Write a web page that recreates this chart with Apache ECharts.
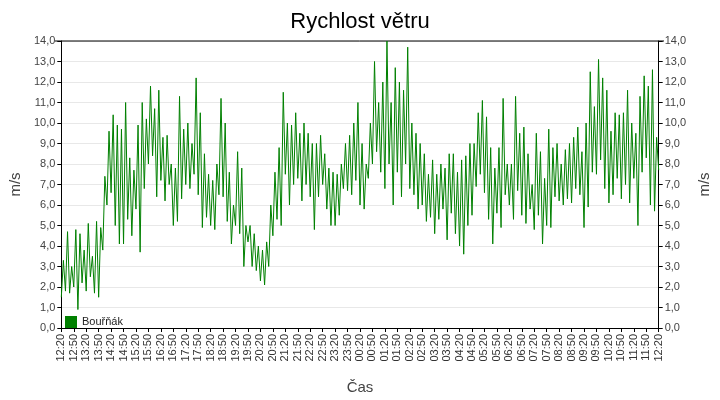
<!DOCTYPE html>
<html><head><meta charset="utf-8">
<script src="https://cdn.jsdelivr.net/npm/echarts@6/dist/echarts.min.js"></script>
<style>html,body{margin:0;padding:0;background:#fff}#c{width:720px;height:400px}</style>
</head><body><div id="c"></div>
<script>
const title = "Rychlost větru";
const seriesName = "Bouřňák";
const yTicks = [0,1,2,3,4,5,6,7,8,9,10,11,12,13,14];
// wind speed samples every 5 minutes, 12:20 -> 12:20 next day
const windSpeed = [
1.5,3.3,1.8,4.7,1.7,3.0, 2.0,4.8,0.9,4.6,2.2,3.8, 1.8,5.1,2.5,3.5,1.7,5.2,
1.5,4.9,3.8,7.4,6.0,9.6, 6.6,10.4,5.0,9.9,4.1,9.7, 4.1,11.0,5.3,8.3,4.5,7.7,
5.8,9.9,3.7,11.0,6.8,10.2, 8.0,11.8,8.4,10.7,6.4,11.6, 7.2,9.3,6.2,9.4,7.0,8.0,
5.0,7.8,5.2,11.3,6.3,9.7, 7.0,10.0,6.8,9.0,7.5,12.2, 6.5,10.5,4.9,8.5,5.4,7.5,
5.0,7.2,4.8,8.0,6.5,11.2, 6.4,10.0,5.2,7.6,4.1,6.0,
5.0,8.6,4.6,7.8,3.0,5.0, 4.2,5.0,3.0,4.6,2.8,4.0, 2.3,3.8,2.1,4.2,3.0,6.0,
4.5,7.6,5.3,8.8,5.0,11.5, 7.5,10.0,6.0,9.9,7.0,10.5, 7.3,9.5,6.2,10.0,7.0,9.5,
6.4,9.0,4.8,9.0,6.4,9.4, 7.0,8.5,5.8,7.8,5.0,7.6, 5.0,7.5,5.5,8.0,6.8,9.0,
6.7,9.4,6.5,10.0,7.2,11.0, 6.0,9.0,5.8,8.0,7.3,10.0, 8.0,13.0,8.6,11.0,7.6,12.0,
6.8,14.0,8.0,11.0,6.0,12.7, 7.6,12.0,6.4,11.6,8.0,13.7, 6.8,10.0,6.5,9.5,5.8,9.0,
6.0,8.5,5.2,7.5,5.4,8.2, 4.6,7.5,5.3,8.0,5.8,7.8, 4.3,8.5,5.6,8.5,4.6,7.6,
4.0,8.2,3.6,8.4,5.0,9.0, 5.5,9.0,6.9,10.5,7.5,11.1, 6.6,10.3,5.3,8.8,4.1,7.8,
5.6,8.8,4.9,11.2,6.5,8.0, 6.0,8.0,5.3,11.3,6.7,9.5, 5.5,9.8,5.1,8.5,5.8,7.0,
4.8,9.5,5.5,8.6,4.1,7.3, 5.0,9.7,4.9,8.8,6.4,9.0, 6.2,8.0,6.0,8.7,6.3,9.0,
6.1,9.3,6.8,9.8,6.5,8.6, 4.9,10.0,5.9,12.5,7.6,10.8, 7.5,13.1,8.2,12.2,6.8,11.6,
6.1,9.6,6.5,10.5,7.3,10.4, 6.3,10.5,7.0,11.6,6.1,10.0, 7.3,9.5,5.0,11.3,7.6,12.3,
8.3,11.8,6.0,12.6,5.7,9.3, 7.7
];
const times = [];
for (let i = 0; i < windSpeed.length; i++) {
  const m = (12*60+20 + i*5) % 1440;
  times.push(String(Math.floor(m/60)).padStart(2,'0') + ':' + String(m%60).padStart(2,'0'));
}
const fmt = v => v.toFixed(1).replace('.', ',');
const yAxisBase = pos => ({
  type:'value', position:pos, min:0, max:14, interval:1,
  name:'m/s', nameLocation:'middle', nameGap:38, nameRotate:90,
  nameTextStyle:{color:'#444', fontSize:15, fontFamily:'Liberation Sans'},
  axisLine:{show:true, lineStyle:{color:'#000'}},
  axisTick:{show:true, length:4, lineStyle:{color:'#000'}},
  axisLabel:{formatter:fmt, color:'#444', fontSize:11, fontFamily:'Liberation Sans', margin:6},
  splitLine:{show: pos==='left', lineStyle:{color:'#e8e8e8'}}
});
const chart = echarts.init(document.getElementById('c'));
chart.setOption({
  animation:false,
  title:{text:title, left:'center', top:6, textStyle:{fontSize:22, fontWeight:'normal', color:'#000', fontFamily:'Liberation Sans'}},
  grid:{left:55, right:56, top:41, bottom:69},
  legend:{data:[seriesName], left:60, top:311, icon:'rect', itemWidth:12, itemHeight:12,
    textStyle:{fontSize:11, color:'#222', fontFamily:'Liberation Sans'}},
  xAxis:{type:'category', data:times, boundaryGap:false,
    name:'Čas', nameLocation:'middle', nameGap:52,
    nameTextStyle:{color:'#444', fontSize:15, fontFamily:'Liberation Sans'},
    axisLine:{lineStyle:{color:'#000'}},
    axisTick:{interval:5, length:4, lineStyle:{color:'#000'}},
    axisLabel:{interval:5, rotate:90, color:'#333', fontSize:11, fontFamily:'Liberation Sans', margin:6},
    splitLine:{show:false}},
  yAxis:[yAxisBase('left'), yAxisBase('right')],
  series:[{name:seriesName, type:'line', data:windSpeed, symbol:'none',
    lineStyle:{color:'#008000', width:1}, itemStyle:{color:'#008000'}}]
});
chart.setOption({graphic:[{type:'line', shape:{x1:55,y1:41,x2:664,y2:41}, style:{stroke:'#000', lineWidth:1}}]});
</script></body></html>
